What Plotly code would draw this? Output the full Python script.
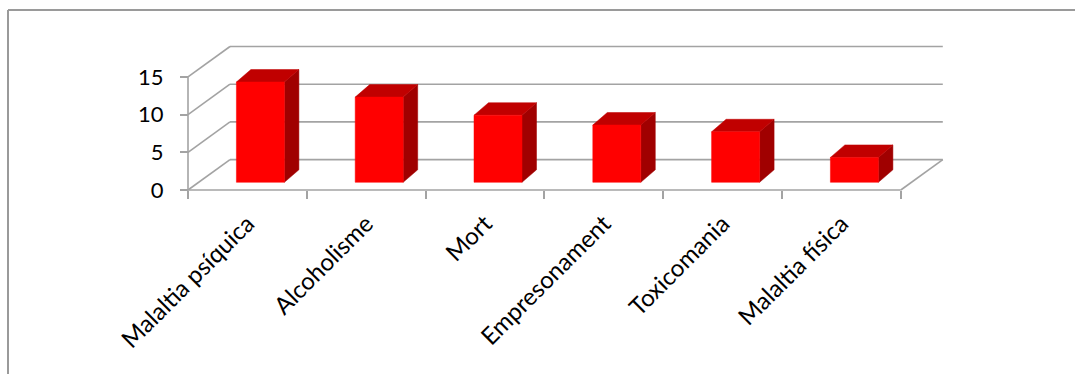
import plotly.graph_objects as go

# ---- data ----
categories = ["Malaltia psíquica", "Alcoholisme", "Mort", "Empresonament",
              "Toxicomania", "Malaltia física"]
values = [13.3, 11.3, 8.9, 7.6, 6.7, 3.3]
y_ticks = [0, 5, 10, 15]

# ---- canvas / projection setup (pixels -> axis units) ----
W, H = 1075, 374
CAT_PX = 118.8      # width of one category on the front axis
UNIT_PX = 7.54      # height of one value unit
AX_LEFT = 188       # x pixel of the front vertical axis
AX_ZERO = 190       # y pixel of the front zero line


def cx(px):
    return px / CAT_PX


def cy(px):
    return px / UNIT_PX


wall_dx, wall_dy = cx(42), cy(30.4)      # oblique depth of the walls
bar_w = cx(48)                           # bar width
bar_sx, bar_sy = cx(13), cy(7.7)         # bar front-plane offset
bar_dx, bar_dy = cx(14.5), cy(12.5)      # bar depth

n = len(categories)
x0, x1 = -0.5, n - 0.5
ymax = y_ticks[-1]

x_range = [x0 - cx(AX_LEFT), x0 + cx(W - AX_LEFT)]
y_range = [-cy(H - AX_ZERO), cy(AX_ZERO)]

GRID = "#a3a3a3"
FAMILY = "Lato, Carlito, Calibri, sans-serif"
VAL_FONT = dict(family=FAMILY, size=22, color="#000000")
CAT_FONT = dict(family=FAMILY, size=24, color="#000000")

fig = go.Figure()

# ---- walls, floor and gridlines ----
gx, gy = [], []


def seg(xa, ya, xb, yb):
    gx.extend([xa, xb, None])
    gy.extend([ya, yb, None])


for v in y_ticks:
    seg(x0 + wall_dx, v + wall_dy, x1 + wall_dx, v + wall_dy)   # back wall
    seg(x0, v, x0 + wall_dx, v + wall_dy)                       # side wall
seg(x0, 0, x0, ymax)                                            # front value axis
seg(x0, 0, x1, 0)                                               # floor front edge
seg(x1, 0, x1 + wall_dx, wall_dy)                               # floor right edge

fig.add_trace(go.Scatter(x=gx, y=gy, mode="lines",
                         line=dict(color=GRID, width=1.6),
                         hoverinfo="skip", showlegend=False))

# ---- 3D columns ----
front_x, front_y = [], []
top_x, top_y = [], []
side_x, side_y = [], []
for i, v in enumerate(values):
    xl = i + bar_sx - bar_w / 2
    xr = i + bar_sx + bar_w / 2
    yb = bar_sy
    yt = bar_sy + v
    front_x += [xl, xr, xr, xl, xl, None]
    front_y += [yb, yb, yt, yt, yb, None]
    top_x += [xl, xr, xr + bar_dx, xl + bar_dx, xl, None]
    top_y += [yt, yt, yt + bar_dy, yt + bar_dy, yt, None]
    side_x += [xr, xr + bar_dx, xr + bar_dx, xr, xr, None]
    side_y += [yb, yb + bar_dy, yt + bar_dy, yt, yb, None]

for xs, ys, col in [(side_x, side_y, "#a00000"),
                    (top_x, top_y, "#c00000"),
                    (front_x, front_y, "#ff0000")]:
    fig.add_trace(go.Scatter(x=xs, y=ys, mode="lines", fill="toself",
                             fillcolor=col, line=dict(color=col, width=0.5),
                             hoverinfo="skip", showlegend=False))

# ---- layout and axes ----
fig.update_layout(
    width=W, height=H,
    margin=dict(l=0, r=0, t=0, b=0),
    paper_bgcolor="white", plot_bgcolor="white",
    showlegend=False,
    xaxis=dict(domain=[0, 1], range=x_range, visible=False, fixedrange=True),
    yaxis=dict(domain=[0, 1], range=y_range, visible=False, fixedrange=True),
    # category tick marks on the front floor edge
    xaxis2=dict(overlaying="x", anchor="free", position=1 - AX_ZERO / H,
                range=x_range, tickmode="array",
                tickvals=[x0 + k for k in range(n + 1)],
                ticks="outside", ticklen=8, tickwidth=1.6, tickcolor=GRID,
                showticklabels=False, showgrid=False, zeroline=False,
                showline=False),
    # category labels
    xaxis3=dict(overlaying="x", anchor="free", position=1 - AX_ZERO / H,
                range=x_range, tickmode="array",
                tickvals=list(range(n)), ticktext=categories,
                tickangle=-45, ticks="", tickfont=CAT_FONT,
                ticklabelstandoff=14,
                showgrid=False, zeroline=False, showline=False),
    # value axis
    yaxis2=dict(overlaying="y", anchor="free", position=AX_LEFT / W,
                side="left", range=y_range, tickmode="array",
                tickvals=y_ticks, ticks="outside", ticklen=8, tickwidth=1.6,
                tickcolor=GRID, tickfont=VAL_FONT, ticklabelstandoff=12,
                showgrid=False, zeroline=False, showline=False),
    shapes=[
        dict(type="line", xref="paper", yref="paper",
             x0=8 / W, x1=8 / W, y0=-0.02, y1=1 - 10 / H,
             line=dict(color="#9a9a9a", width=2)),
        dict(type="line", xref="paper", yref="paper",
             x0=8 / W, x1=1.02, y0=1 - 10 / H, y1=1 - 10 / H,
             line=dict(color="#9a9a9a", width=2)),
    ],
)

# placeholder traces so the overlay axes are rendered
fig.add_trace(go.Scatter(x=[None], y=[None], xaxis="x2", yaxis="y",
                         showlegend=False, hoverinfo="skip"))
fig.add_trace(go.Scatter(x=[None], y=[None], xaxis="x3", yaxis="y2",
                         showlegend=False, hoverinfo="skip"))

fig.write_html("out.html", config={"displayModeBar": False})
